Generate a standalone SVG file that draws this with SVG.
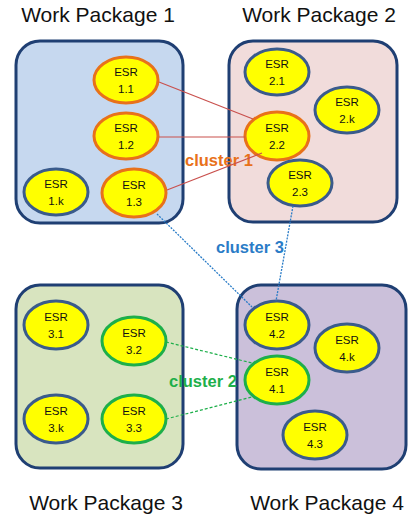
<svg xmlns="http://www.w3.org/2000/svg" width="408" height="518" viewBox="0 0 408 518">
<style>
.title{font-family:"Liberation Sans",Arial,sans-serif;font-size:21px;fill:#111;text-anchor:middle}
.box{stroke:#1f3f73;stroke-width:3}
.esr{fill:#ffff00;stroke-width:3}
.blue{stroke:#3a5b8c}
.orange{stroke:#e8711a}
.green{stroke:#1daf4a}
.lbl{font-family:"Liberation Sans",Arial,sans-serif;font-size:11.5px;fill:#111;text-anchor:middle}
.cl{font-family:"Liberation Sans",Arial,sans-serif;font-size:16.5px;font-weight:bold}
.c1{stroke:#c9504d;stroke-width:1.2;fill:none}
.c3{stroke:#2a7cc7;stroke-width:1.3;stroke-dasharray:2 1.2;fill:none}
.c2{stroke:#1daf4a;stroke-width:1.2;stroke-dasharray:3 2;fill:none}
</style>
<rect width="408" height="518" fill="#fff"/>
<g id="wp1">
<rect class="box" x="16" y="41" width="167" height="182" rx="24" fill="#c6d8ef"/>
<text class="title" x="98" y="22">Work Package 1</text>
</g>
<g id="wp2">
<rect class="box" x="229" y="41" width="168" height="181" rx="24" fill="#f1dcdb"/>
<text class="title" x="319" y="22">Work Package 2</text>
</g>
<g id="wp3">
<rect class="box" x="16" y="285" width="167" height="183" rx="24" fill="#d8e4bf"/>
<text class="title" x="106" y="510">Work Package 3</text>
</g>
<g id="wp4">
<rect class="box" x="237" y="285" width="169" height="184" rx="24" fill="#cbc0da"/>
<text class="title" x="327" y="510">Work Package 4</text>
</g>
<g id="esr11"><ellipse class="esr orange" cx="126" cy="80" rx="32" ry="23"/><text class="lbl" x="126" y="76">ESR</text><text class="lbl" x="126" y="93">1.1</text></g>
<g id="esr12"><ellipse class="esr orange" cx="126" cy="136" rx="32" ry="23"/><text class="lbl" x="126" y="132">ESR</text><text class="lbl" x="126" y="149">1.2</text></g>
<g id="esr1k"><ellipse class="esr blue" cx="56" cy="192" rx="32" ry="23"/><text class="lbl" x="56" y="188">ESR</text><text class="lbl" x="56" y="205">1.k</text></g>
<g id="esr13"><ellipse class="esr orange" cx="134" cy="193" rx="32" ry="24"/><text class="lbl" x="134" y="189">ESR</text><text class="lbl" x="134" y="206">1.3</text></g>
<g id="esr21"><ellipse class="esr blue" cx="277" cy="72" rx="32" ry="23"/><text class="lbl" x="277" y="68">ESR</text><text class="lbl" x="277" y="85">2.1</text></g>
<g id="esr2k"><ellipse class="esr blue" cx="347" cy="110" rx="32" ry="23"/><text class="lbl" x="347" y="106">ESR</text><text class="lbl" x="347" y="123">2.k</text></g>
<g id="esr22"><ellipse class="esr orange" cx="277" cy="136" rx="32" ry="24"/><text class="lbl" x="277" y="132">ESR</text><text class="lbl" x="277" y="149">2.2</text></g>
<g id="esr23"><ellipse class="esr blue" cx="300" cy="183" rx="32" ry="23"/><text class="lbl" x="300" y="179">ESR</text><text class="lbl" x="300" y="196">2.3</text></g>
<g id="esr31"><ellipse class="esr blue" cx="56" cy="325" rx="32" ry="24"/><text class="lbl" x="56" y="321">ESR</text><text class="lbl" x="56" y="338">3.1</text></g>
<g id="esr32"><ellipse class="esr green" cx="134" cy="341" rx="32" ry="24"/><text class="lbl" x="134" y="337">ESR</text><text class="lbl" x="134" y="354">3.2</text></g>
<g id="esr3k"><ellipse class="esr blue" cx="56" cy="419" rx="32" ry="24"/><text class="lbl" x="56" y="415">ESR</text><text class="lbl" x="56" y="432">3.k</text></g>
<g id="esr33"><ellipse class="esr green" cx="134" cy="419" rx="32" ry="24"/><text class="lbl" x="134" y="415">ESR</text><text class="lbl" x="134" y="432">3.3</text></g>
<g id="esr42"><ellipse class="esr blue" cx="277" cy="325" rx="32" ry="24"/><text class="lbl" x="277" y="321">ESR</text><text class="lbl" x="277" y="338">4.2</text></g>
<g id="esr4k"><ellipse class="esr blue" cx="347" cy="348" rx="32" ry="24"/><text class="lbl" x="347" y="344">ESR</text><text class="lbl" x="347" y="361">4.k</text></g>
<g id="esr41"><ellipse class="esr green" cx="277" cy="380" rx="32" ry="24"/><text class="lbl" x="277" y="376">ESR</text><text class="lbl" x="277" y="393">4.1</text></g>
<g id="esr43"><ellipse class="esr blue" cx="315" cy="435" rx="32" ry="24"/><text class="lbl" x="315" y="431">ESR</text><text class="lbl" x="315" y="448">4.3</text></g>
<g id="labels">
<text class="cl" x="185" y="166" fill="#e8711a">cluster 1</text>
<text class="cl" x="216" y="253" fill="#2a7cc7">cluster 3</text>
<text class="cl" x="169" y="387" fill="#1daf4a">cluster 2</text>
</g>
<g id="connectors">
<line class="c1" x1="159" y1="82" x2="253" y2="119"/>
<line class="c1" x1="159" y1="137" x2="245" y2="137"/>
<line class="c1" x1="167" y1="190" x2="262" y2="153"/>
<line class="c3" x1="157" y1="214" x2="252" y2="307"/>
<line class="c3" x1="293" y1="206" x2="276" y2="301"/>
<line class="c2" x1="166" y1="342" x2="252" y2="363"/>
<line class="c2" x1="166" y1="419" x2="252" y2="397"/>
</g>
</svg>
